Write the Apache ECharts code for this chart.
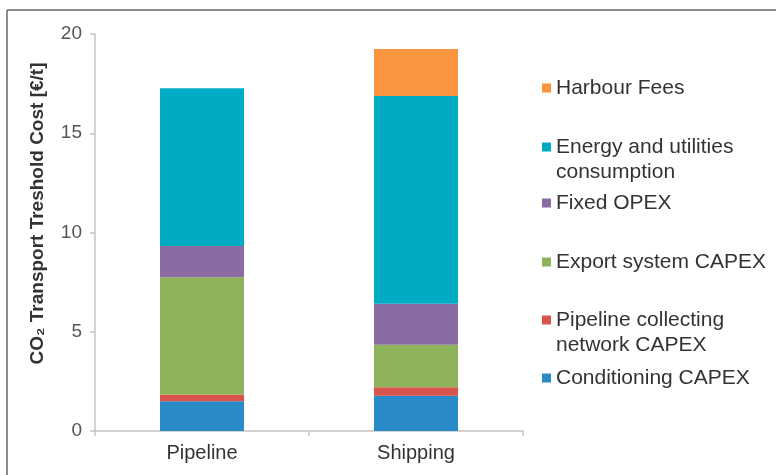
<!DOCTYPE html>
<html>
<head>
<meta charset="utf-8">
<script src="https://cdn.jsdelivr.net/npm/echarts@6/dist/echarts.min.js"></script>
<style>
html,body{margin:0;padding:0;background:#fff;}
#chart{width:776px;height:475px;}
</style>
</head>
<body>
<div id="chart"></div>
<script>
const categories = ['Pipeline', 'Shipping'];
const seriesNames = [
  'Conditioning CAPEX',
  'Pipeline collecting\nnetwork CAPEX',
  'Export system CAPEX',
  'Fixed OPEX',
  'Energy and utilities\nconsumption',
  'Harbour Fees'
];
const conditioningCapex = [1.5, 1.77];
const pipelineNetworkCapex = [0.34, 0.43];
const exportSystemCapex = [5.9, 2.14];
const fixedOpex = [1.58, 2.07];
const energyUtilities = [7.95, 10.47];
const harbourFees = [0, 2.36];
const yTicks = [0, 5, 10, 15, 20];

const colors = ['#2b8bc8', '#d8534c', '#8fb35a', '#8a6ba4', '#00abc4', '#f9943f'];
const values = [conditioningCapex, pipelineNetworkCapex, exportSystemCapex, fixedOpex, energyUtilities, harbourFees];

const font = 'Liberation Sans, Arial, sans-serif';
const tallIcon = 'path://M0,0L9,0L9,9L0,9Z M0,34';

// legend order top to bottom with first-line centers
const legendRows = [
  {name: seriesNames[5], center: 88, tall: false},
  {name: seriesNames[4], center: 147, tall: true},
  {name: seriesNames[3], center: 203, tall: false},
  {name: seriesNames[2], center: 262, tall: false},
  {name: seriesNames[1], center: 320, tall: true},
  {name: seriesNames[0], center: 378, tall: false}
];

const legends = legendRows.map(r => ({
  orient: 'vertical',
  left: 542,
  top: r.center - 12.5,
  padding: 0,
  itemWidth: 9,
  itemHeight: r.tall ? 34 : 9,
  itemGap: 0,
  selectedMode: false,
  data: [{name: r.name, icon: r.tall ? tallIcon : 'rect'}],
  textStyle: {fontFamily: font, fontSize: 21, lineHeight: 25, color: '#333'}
}));

const chart = echarts.init(document.getElementById('chart'), null, {renderer: 'canvas'});
chart.setOption({
  animation: false,
  backgroundColor: '#fff',
  grid: {left: 95, right: 253, top: 34, bottom: 44, containLabel: false},
  legend: legends,
  xAxis: {
    type: 'category',
    data: categories,
    axisLine: {lineStyle: {color: '#c4c4c4', width: 1.5}},
    axisTick: {show: true, length: 5, lineStyle: {color: '#c4c4c4', width: 1.5}},
    axisLabel: {fontFamily: font, fontSize: 20, color: '#333', margin: 12}
  },
  yAxis: {
    type: 'value',
    min: yTicks[0],
    max: yTicks[yTicks.length - 1],
    interval: 5,
    name: 'CO\u2082 Transport Treshold Cost [\u20ac/t]',
    nameLocation: 'middle',
    nameGap: 48,
    nameRotate: 90,
    nameTextStyle: {fontFamily: font, fontSize: 19, fontWeight: 'bold', color: '#333', padding: [0, 0, 0, 38]},
    splitLine: {show: false},
    axisLine: {show: true, lineStyle: {color: '#c4c4c4', width: 1.5}},
    axisTick: {show: true, length: 5, lineStyle: {color: '#c4c4c4', width: 1.5}},
    axisLabel: {fontFamily: font, fontSize: 19, color: '#555', margin: 13}
  },
  graphic: [
    {type: 'line', shape: {x1: 7, y1: 10, x2: 776, y2: 10}, style: {stroke: '#666', lineWidth: 1.5}, silent: true},
    {type: 'line', shape: {x1: 7, y1: 10, x2: 7, y2: 475}, style: {stroke: '#666', lineWidth: 1.5}, silent: true}
  ],
  series: seriesNames.map((n, i) => ({
    name: n,
    type: 'bar',
    stack: 'total',
    barWidth: 84,
    itemStyle: {color: colors[i]},
    data: values[i]
  }))
});
</script>
</body>
</html>
